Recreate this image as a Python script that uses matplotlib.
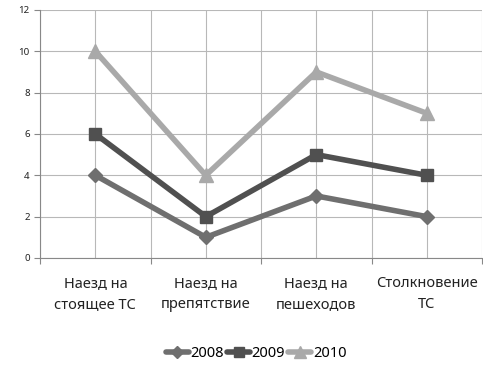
import numpy as np
import matplotlib
matplotlib.use("Agg")
import matplotlib.pyplot as plt

plt.rcParams['font.family'] = ['Noto Sans', 'DejaVu Sans']

# Данные
categories = ["Наезд на\nстоящее ТС", "Наезд на\nпрепятствие", "Наезд на\nпешеходов", "Столкновение\nТС"]
years = ["2008", "2009", "2010"]
v2008 = [4, 1, 3, 2]
v2009 = [6, 2, 5, 4]
v2010 = [10, 4, 9, 7]

series = [
    (years[0], v2008, "#6f6f6f", "D", 7),
    (years[1], v2009, "#505050", "s", 9),
    (years[2], v2010, "#a9a9a9", "^", 10),
]

fig = plt.figure(figsize=(4.83, 3.68), dpi=100)
ax = fig.add_axes([0.083, 0.299, 0.915, 0.674])

x = np.arange(len(categories))
for name, vals, col, mk, ms in series:
    ax.plot(x, vals, color=col, lw=4, marker=mk, markersize=ms,
            markeredgecolor=col, label=name, solid_capstyle="round")

ax.set_xlim(-0.5, len(categories) - 0.5)
ax.set_ylim(0, 12)
ax.set_yticks(range(0, 13, 2))
ax.set_xticks(np.arange(-0.5, len(categories), 1.0))
ax.set_xticklabels([])
ax.set_xticks(x, minor=True)
ax.set_xticklabels(categories, minor=True, fontsize=10.5, color="#222222", linespacing=1.55)
ax.tick_params(axis="x", which="minor", length=0, pad=13)
ax.tick_params(axis="x", which="major", length=4, color="#888888")
ax.tick_params(axis="y", labelsize=7, length=4, color="#888888", labelcolor="#222222")
ax.grid(True, which="both", color="#b8b8b8", lw=0.8)
ax.set_axisbelow(True)
for s in ["top", "right"]:
    ax.spines[s].set_visible(False)
for s in ["left", "bottom"]:
    ax.spines[s].set_color("#888888")

fig.legend(loc="center", bbox_to_anchor=(0.53, 0.04), ncol=3, frameon=False,
           fontsize=10.5, handlelength=1.6, handletextpad=0.1, columnspacing=0.2,
           markerscale=0.85)

fig.savefig("out.png", dpi=100)
